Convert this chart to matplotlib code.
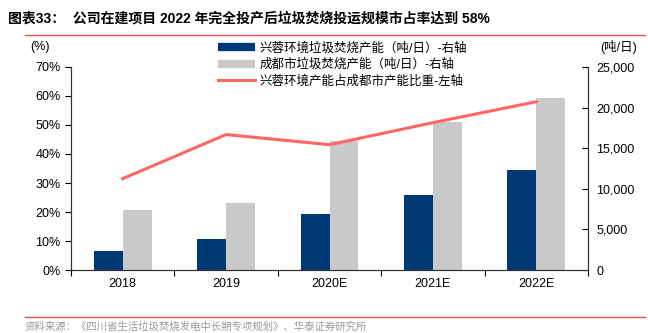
import numpy as np
import matplotlib
matplotlib.use("Agg")
import matplotlib.pyplot as plt
from matplotlib.lines import Line2D
from matplotlib.ticker import FuncFormatter

plt.rcParams['font.family'] = ['Liberation Sans', 'Noto Sans CJK SC', 'DejaVu Sans']

years = ['2018', '2019', '2020E', '2021E', '2022E']
xingrong_cap = [2340, 3850, 6860, 9270, 12280]        # 吨/日
chengdu_cap = [7430, 8250, 15890, 18230, 21180]       # 吨/日
share_pct = [31.5, 46.7, 43.2, 50.8, 58.0]            # %

NAVY = '#003876'
GRAY = '#c9c9c9'
RED = '#ff6666'

fig = plt.figure(figsize=(6.48, 3.33), dpi=100)
ax = fig.add_axes([0.1096, 0.189, 0.7978, 0.61])
ax2 = ax.twinx()

x = np.arange(len(years))
w = 0.28
ax2.bar(x - w / 2, xingrong_cap, w, color=NAVY, zorder=2)
ax2.bar(x + w / 2, chengdu_cap, w, color=GRAY, zorder=2)
ax.plot(x, share_pct, color=RED, lw=2.2, zorder=3)

# line axis on top of bars
ax.set_zorder(ax2.get_zorder() + 1)
ax.patch.set_visible(False)

ax.set_xlim(-0.5, 4.5)
ax.set_ylim(0, 70)
ax.set_yticks(np.arange(0, 71, 10))
ax.yaxis.set_major_formatter(FuncFormatter(lambda v, p: '%d%%' % v))
ax2.set_ylim(0, 25000)
ax2.set_yticks(np.arange(0, 25001, 5000))
ax2.yaxis.set_major_formatter(FuncFormatter(lambda v, p: '{:,.0f}'.format(v)))

ax.set_xticks(np.arange(-0.5, 4.6, 1))
ax.set_xticklabels([])
ax.set_xticks(x, minor=True)
ax.set_xticklabels(years, minor=True)
ax.tick_params(axis='x', which='major', length=4, direction='out', width=0.8)
ax.tick_params(axis='x', which='minor', length=0, labelsize=9, pad=6)
ax.tick_params(axis='y', length=4, direction='out', labelsize=9, width=0.8)
ax2.tick_params(axis='y', length=4, direction='in', labelsize=9, width=0.8, pad=6)

for a in (ax, ax2):
    a.spines['top'].set_visible(False)
    for s in ('left', 'right', 'bottom'):
        a.spines[s].set_color('#333333')
        a.spines[s].set_linewidth(0.8)

fig.text(0.062, 0.858, '(%)', fontsize=9, ha='center', va='center')
fig.text(0.955, 0.858, '(吨/日)', fontsize=9, ha='center', va='center')

handles = [Line2D([], [], color=NAVY, lw=6, solid_capstyle='butt'),
           Line2D([], [], color=GRAY, lw=6, solid_capstyle='butt'),
           Line2D([], [], color=RED, lw=2.2)]
labels = ['兴蓉环境垃圾焚烧产能（吨/日）-右轴',
          '成都市垃圾焚烧产能（吨/日）-右轴',
          '兴蓉环境产能占成都市产能比重-左轴']
fig.legend(handles, labels, loc='upper left', bbox_to_anchor=(0.336, 0.874),
           frameon=False, fontsize=9, handlelength=3.0, handletextpad=0.35,
           labelspacing=0.32, borderaxespad=0, borderpad=0)

fig.text(0.012, 0.945, '图表33：  公司在建项目 2022 年完全投产后垃圾焚烧投运规模市占率达到 58%',
         fontsize=10, fontweight='bold', ha='left', va='center')
fig.add_artist(Line2D([0.038, 0.995], [0.895, 0.895], color='#d9534f', lw=1.0))
fig.add_artist(Line2D([0.038, 0.995], [0.048, 0.048], color='#d9534f', lw=1.0))
fig.text(0.038, 0.02, '资料来源：《四川省生活垃圾焚烧发电中长期专项规划》、华泰证券研究所',
         fontsize=7.5, color='#999999', ha='left', va='center')

fig.savefig('out.png', dpi=100)
